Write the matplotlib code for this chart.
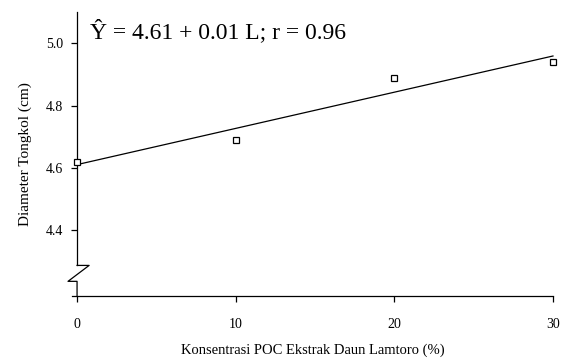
import numpy as np
import matplotlib
matplotlib.use("Agg")
import matplotlib.pyplot as plt

# data
konsentrasi = [0, 10, 20, 30]
diameter = [4.62, 4.69, 4.89, 4.94]
x_ticks = [0, 10, 20, 30]
y_ticks = [4.4, 4.6, 4.8, 5.0]
equation = "\u0176 = 4.61 + 0.01 L; r = 0.96"

plt.rcParams['font.family'] = ['Liberation Serif', 'DejaVu Serif']

fig = plt.figure(figsize=(5.65, 3.62), dpi=100)
ax = fig.add_axes([0.1274, 0.1823, 0.8513, 0.7846])

ymin, ymax = 4.19, 5.1
ax.set_xlim(-0.32, 30)
ax.set_ylim(ymin, ymax)

# regression line
slope, intercept = np.polyfit(konsentrasi, diameter, 1)
xs = np.array([konsentrasi[0], konsentrasi[-1]])
ax.plot(xs, intercept + slope * xs, color='black', lw=0.9, clip_on=False)

# observed points
ax.plot(konsentrasi, diameter, linestyle='none', marker='s', markersize=5,
        markerfacecolor='white', markeredgecolor='black', markeredgewidth=0.9,
        clip_on=False, zorder=3)

ax.text(0.8, 5.017, equation, fontsize=17, ha='left', va='baseline')

# spines
ax.spines['top'].set_visible(False)
ax.spines['right'].set_visible(False)
ax.spines['left'].set_position(('data', 0))
brk_hi, brk_lo = 4.288, 4.237
ax.spines['left'].set_bounds(brk_hi, ymax)
ax.spines['left'].set_linewidth(0.9)
ax.spines['bottom'].set_linewidth(0.9)

# axis break zigzag
ax.plot([0, 0.76, -0.57, 0, 0], [brk_hi, brk_hi, brk_lo, brk_lo, ymin],
        color='black', lw=0.9, clip_on=False)

ax.set_xticks(x_ticks)
ax.set_xticklabels([str(v) for v in x_ticks])
ax.set_yticks(y_ticks)
ax.set_yticklabels([f"{v:.1f}" for v in y_ticks])
ax.tick_params(axis='x', direction='out', length=4, width=0.9, pad=12, labelsize=10)
ax.tick_params(axis='y', direction='out', length=4, width=0.9, pad=6, labelsize=10)

ax.set_xlabel("Konsentrasi POC Ekstrak Daun Lamtoro (%)", fontsize=10.5, labelpad=9)
ax.set_ylabel("Diameter Tongkol (cm)", fontsize=11, labelpad=10)

fig.savefig("out.png", dpi=100)
